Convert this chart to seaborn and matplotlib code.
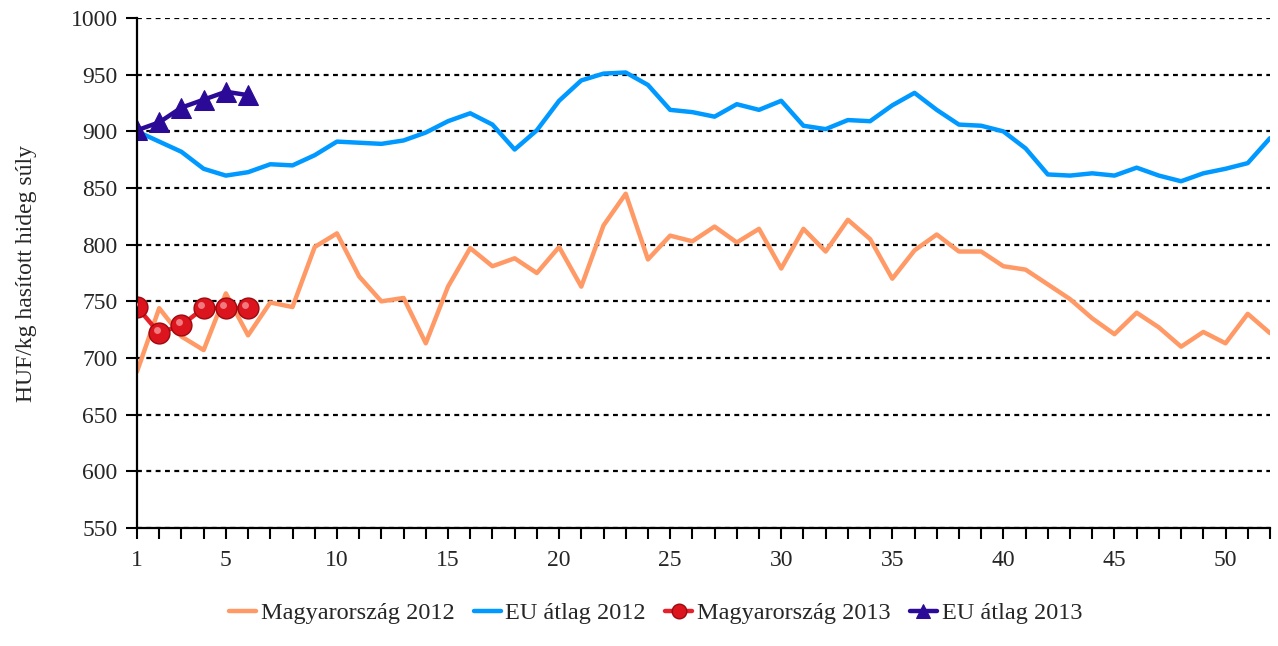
import numpy as np
import pandas as pd
import seaborn as sns
import matplotlib.pyplot as plt

# Hetek
weeks_2012 = list(range(1, 53))
weeks_2013 = list(range(1, 7))

# Magyarország 2012 (HUF/kg)
hu_2012 = [688, 744, 719, 707, 757, 720, 749, 745, 798, 810,
           772, 750, 753, 713, 763, 797, 781, 788, 775, 798,
           763, 817, 845, 787, 808, 803, 816, 802, 814, 779,
           814, 794, 822, 805, 770, 795, 809, 794, 794, 781,
           778, 765, 752, 735, 721, 740, 727, 710, 723, 713,
           739, 722]

# EU átlag 2012
eu_2012 = [900, 891, 882, 867, 861, 864, 871, 870, 879, 891,
           890, 889, 892, 899, 909, 916, 906, 884, 901, 927,
           945, 951, 952, 941, 919, 917, 913, 924, 919, 927,
           905, 902, 910, 909, 923, 934, 919, 906, 905, 900,
           885, 862, 861, 863, 861, 868, 861, 856, 863, 867,
           872, 894]

# 2013
hu_2013 = [745, 722, 729, 744, 744, 744]
eu_2013 = [901, 908, 921, 928, 935, 932]

labels = ["Magyarország 2012", "EU átlag 2012", "Magyarország 2013", "EU átlag 2013"]

sns.set_style("white")
plt.rcParams["font.family"] = ["Liberation Serif", "DejaVu Serif"]

fig = plt.figure(figsize=(12.78, 6.46), dpi=100)
ax = fig.add_axes([0.1072, 0.1827, 0.8865, 0.7893])

# horizontális rácsvonalak
for v in range(550, 1001, 50):
    ax.axhline(v, color="black", lw=1.6, ls=(0, (2.2, 2.0)), zorder=0)

sns.lineplot(x=weeks_2012, y=hu_2012, ax=ax, color="#ff9966", lw=3.2, label=labels[0])
sns.lineplot(x=weeks_2012, y=eu_2012, ax=ax, color="#0099ff", lw=3.2, label=labels[1])
sns.lineplot(x=weeks_2013, y=hu_2013, ax=ax, color="#e8202a", lw=3.2, marker="o",
             markersize=15, markerfacecolor="#dc141e", markeredgecolor="#9c0a10",
             markeredgewidth=1.0, label=labels[2])
# fényes folt a golyókon
ax.plot(np.array(weeks_2013) - 0.12, np.array(hu_2013) + 3, ls="none", marker="o",
        markersize=5, markerfacecolor="#f07a80", markeredgecolor="none", zorder=5)
sns.lineplot(x=weeks_2013, y=eu_2013, ax=ax, color="#2a0a96", lw=3.2, marker="^",
             markersize=15, markerfacecolor="#2a0a96", markeredgecolor="#2a0a96",
             label=labels[3])

ax.set_xlim(1, 52)
ax.set_ylim(550, 1000)
ax.set_yticks(range(550, 1001, 50))
ax.set_xticks(weeks_2012)
ax.set_xticklabels([str(w) if (w == 1 or w % 5 == 0) else "" for w in weeks_2012])
ax.tick_params(axis="both", direction="out", length=8, width=1.5, color="black",
               labelsize=17, pad=6, bottom=True, left=True)
ax.tick_params(axis="x", pad=8)

for side in ["top", "right"]:
    ax.spines[side].set_visible(False)
for side in ["left", "bottom"]:
    ax.spines[side].set_color("black")
    ax.spines[side].set_linewidth(1.6)

ax.set_ylabel("HUF/kg hasított hideg súly", fontsize=17, labelpad=24)
ax.set_xlabel("")

handles, labs = ax.get_legend_handles_labels()
ax.get_legend().remove()
fig.legend(handles, labs, loc="lower center", bbox_to_anchor=(0.513, 0.0), ncol=4,
           frameon=False, fontsize=17.5, handlelength=1.1, handletextpad=0.2,
           columnspacing=0.8, markerscale=0.7)

fig.savefig("out.png", dpi=100)
